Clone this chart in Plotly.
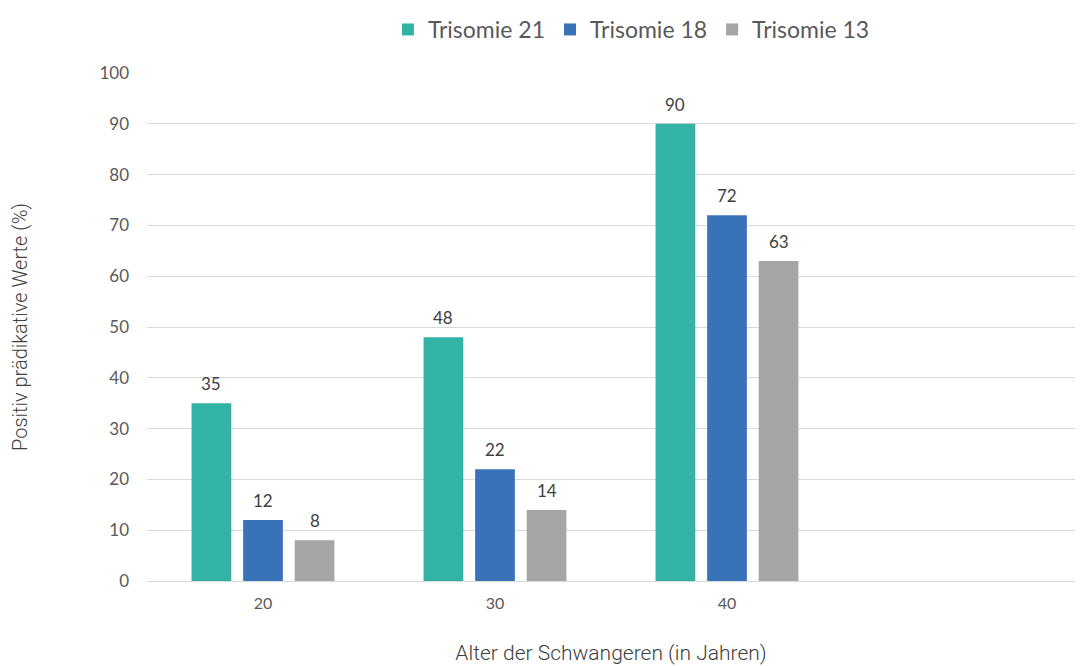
import plotly.graph_objects as go

categories = ["20", "30", "40", " "]
series_names = ["Trisomie 21", "Trisomie 18", "Trisomie 13"]
t21 = [35, 48, 90, None]
t18 = [12, 22, 72, None]
t13 = [8, 14, 63, None]
colors = ["#33B3A6", "#3873BA", "#A5A5A5"]
series = [t21, t18, t13]

BASE = "Lato, Open Sans, sans-serif"
TITLE = "Roboto, sans-serif"

fig = go.Figure()
for name, vals, col in zip(series_names, series, colors):
    fig.add_trace(go.Bar(
        x=categories, y=vals, name=name, marker_color=col,
        marker_line_width=0,
    ))

# data labels above bars (offset to each bar's slot in the group)
slot = 52
for i, vals in enumerate(series):
    for ci, v in enumerate(vals):
        if v is None:
            continue
        fig.add_annotation(
            x=ci, y=v, xref="x", yref="y", text=str(v), showarrow=False,
            xshift=(i - 1) * slot, yanchor="bottom", yshift=7,
            font=dict(family=BASE, size=17, color="#404040"),
        )

fig.update_layout(
    width=1083, height=666,
    margin=dict(l=139, r=16, t=65, b=93, autoexpand=False),
    paper_bgcolor="white", plot_bgcolor="white",
    barmode="group", bargap=0.333, bargroupgap=0.23,
    font=dict(family=BASE, color="#595959"),
    showlegend=True,
    legend=dict(orientation="h", x=0.522, xanchor="center", y=1.0, yanchor="top",
                yref="container", font=dict(size=23, color="#595959"),
                traceorder="normal", itemwidth=30, tracegroupgap=0),
    xaxis=dict(
        type="category", categoryorder="array", categoryarray=categories,
        range=[-0.5, 3.5], automargin=False,
        showgrid=False, showline=True, linecolor="#D9D9D9", linewidth=1,
        ticks="", ticklabelstandoff=8, tickfont=dict(size=16, color="#595959"),
        title=dict(text="Alter der Schwangeren (in Jahren)",
                   font=dict(family=TITLE, size=21, color="#404040", weight=300), standoff=34),
    ),
    yaxis=dict(
        range=[0, 100], dtick=10, automargin=False,
        showgrid=True, gridcolor="#D9D9D9", gridwidth=1,
        zeroline=False, showline=False, ticks="", ticklabelstandoff=17,
        tickfont=dict(size=17, color="#595959"),
        title=dict(text="Positiv prädikative Werte (%)",
                   font=dict(family=TITLE, size=20, color="#404040", weight=300), standoff=80),
    ),
)

fig.write_html("out.html")
